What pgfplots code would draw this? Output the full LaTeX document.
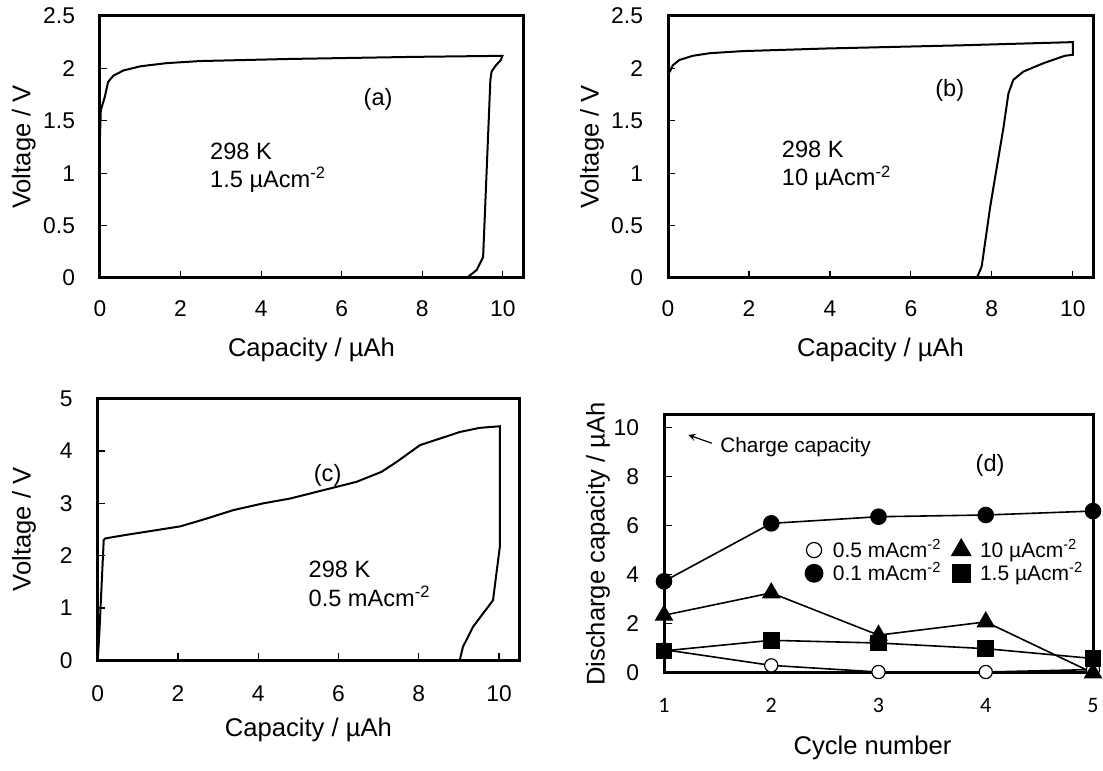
\documentclass[border=0pt]{standalone}
\usepackage{fontspec}
\setmainfont{Liberation Sans}
\newfontfamily\carlito{Carlito}
\usepackage{pgfplots}
\pgfplotsset{compat=1.18}
\tikzset{ann/.style={font=\fontsize{11.8}{14.2}\selectfont, align=left, anchor=west}}
\begin{document}
\begin{tikzpicture}
\path[use as bounding box] (0,0) rectangle (551.5pt,385.5pt);
\pgfplotsset{
  every axis/.append style={
    scale only axis,
    anchor=south west,
    axis line style={line width=1.5pt},
    tick pos=left,
    tick align=inside,
    major tick length=3.5pt,
    every tick/.style={black, line width=0.6pt},
    /pgf/number format/assume math mode=true,
    tick label style={font=\fontsize{11.4}{13.7}\selectfont},
    label style={font=\fontsize{12.8}{15.4}\selectfont},
    yticklabel style={xshift=-9pt},
  },
  curve/.style={black, line width=1pt, no markers},
}
% (a)
\begin{axis}[at={(50pt,246.5pt)}, width=211.5pt, height=131pt,
  xmin=0, xmax=10.5, ymin=0, ymax=2.5,
  xtick={0,2,4,6,8,10}, ytick={0,0.5,1,1.5,2,2.5},
  xticklabel style={yshift=-8pt},
  xlabel={Capacity / µAh}, ylabel={Voltage / V},
  xlabel style={at={(axis description cs:0.5,-0.275)}, anchor=center},
  ylabel style={at={(axis description cs:-0.18,0.5)}, anchor=center}]
\addplot[curve] coordinates {
(0,1.35) (0.02,1.6) (0.12,1.73) (0.2,1.87) (0.33,1.93) (0.58,1.98) (1.0,2.02)
(1.65,2.05) (2.48,2.07) (4.7,2.09) (7.8,2.11) (9.99,2.12)
(9.95,2.08) (9.83,2.03) (9.72,1.97) (9.69,1.89) (9.51,0.2) (9.35,0.076) (9.1,0.0)};
\node[ann] at (axis cs:6.37,1.70) {(a)};
\node[ann] at (axis cs:2.56,1.055) {298 K\\1.5 µAcm\textsuperscript{-2}};
\end{axis}
% (b)
\begin{axis}[at={(334pt,246.5pt)}, width=212.5pt, height=131pt,
  xmin=0, xmax=10.5, ymin=0, ymax=2.5,
  xtick={0,2,4,6,8,10}, ytick={0,0.5,1,1.5,2,2.5},
  xticklabel style={yshift=-8pt},
  xlabel={Capacity / µAh}, ylabel={Voltage / V},
  xlabel style={at={(axis description cs:0.5,-0.275)}, anchor=center},
  ylabel style={at={(axis description cs:-0.179,0.5)}, anchor=center}]
\addplot[curve] coordinates {
(0,1.45) (0.02,1.95) (0.12,2.03) (0.28,2.08) (0.61,2.12) (1.03,2.145) (1.85,2.165)
(3.92,2.19) (7.22,2.22) (9.94,2.25) (10.0,2.25) (10.0,2.13) (9.8,2.12)
(9.28,2.05) (8.78,1.97) (8.53,1.89) (8.41,1.76) (8.29,1.44) (7.96,0.68) (7.75,0.11) (7.63,0.0)};
\node[ann] at (axis cs:6.43,1.79) {(b)};
\node[ann] at (axis cs:2.64,1.07) {298 K\\10 µAcm\textsuperscript{-2}};
\end{axis}
% (c)
\begin{axis}[at={(48.85pt,55.25pt)}, width=210.7pt, height=131pt,
  xmin=0, xmax=10.5, ymin=0, ymax=5,
  xtick={0,2,4,6,8,10}, ytick={0,1,2,3,4,5},
  xticklabel style={yshift=-9pt},
  xlabel={Capacity / µAh}, ylabel={Voltage / V},
  xlabel style={at={(axis description cs:0.5,-0.265)}, anchor=center},
  ylabel style={at={(axis description cs:-0.175,0.5)}, anchor=center}]
\addplot[curve] coordinates {
(0,0) (0.04,0.5) (0.15,2.3) (0.19,2.33) (0.65,2.39) (1.48,2.49) (2.06,2.56) (2.72,2.71)
(3.38,2.87) (4.13,3.0) (4.79,3.09) (5.62,3.25) (6.45,3.41) (7.07,3.6) (7.45,3.79)
(8.03,4.11) (9.02,4.36) (9.52,4.44) (10.02,4.47) (10.02,2.17) (9.85,1.15)
(9.35,0.64) (9.10,0.26) (9.02,0.0)};
\node[ann] at (axis cs:5.21,3.54) {(c)};
\node[ann] at (axis cs:5.08,1.46) {298 K\\0.5 mAcm\textsuperscript{-2}};
\end{axis}
% (d)
\begin{axis}[at={(332pt,49pt)}, width=214.5pt, height=129pt,
  xmin=1, xmax=5, ymin=0, ymax=10.5, clip=false,
  xtick={1,2,3,4,5}, ytick={0,2,4,6,8,10},
  major tick length=4pt,
  xticklabel style={yshift=-9pt, font=\carlito\fontsize{11}{13}\selectfont},
  xlabel={Cycle number}, ylabel={Discharge capacity / µAh},
  xlabel style={at={(axis description cs:0.486,-0.29)}, anchor=center},
  ylabel style={at={(axis description cs:-0.154,0.5)}, anchor=center},
  legend columns=2,
  legend style={at={(axis description cs:0.305,0.55)}, anchor=north west, draw=none, fill=none,
    font=\fontsize{10.5}{12}\selectfont, row sep=-3pt,
    /tikz/every even column/.append style={column sep=1.5pt}},
  legend cell align=left,
  legend image code/.code={\path (0pt,0pt) (13pt,0pt);
    \draw[#1, /tikz/every mark/.append style={scale=1.15}] plot[only marks] coordinates {(6pt,0pt)};}]
\addplot[black, line width=0.8pt, mark=*, mark size=3.3pt, mark options={fill=white, line width=0.6pt}]
  coordinates {(1,0.95) (2,0.31) (3,0.04) (4,0.04) (5,0.14)};
\addlegendentry{0.5 mAcm\textsuperscript{-2}}
\addplot[black, line width=0.8pt, mark=triangle*, mark size=4.6pt, mark options={fill=black}]
  coordinates {(1,2.35) (2,3.26) (3,1.54) (4,2.08) (5,0.0)};
\addlegendentry{10 µAcm\textsuperscript{-2}}
\addplot[black, line width=0.8pt, mark=*, mark size=3.75pt, mark options={fill=black}]
  coordinates {(1,3.73) (2,6.09) (3,6.36) (4,6.43) (5,6.59)};
\addlegendentry{0.1 mAcm\textsuperscript{-2}}
\addplot[black, line width=0.8pt, mark=square*, mark size=3.75pt, mark options={fill=black}]
  coordinates {(1,0.90) (2,1.33) (3,1.22) (4,0.99) (5,0.59)};
\addlegendentry{1.5 µAcm\textsuperscript{-2}}
\draw[-stealth, line width=0.6pt] (axis cs:1.445,9.35) -- (axis cs:1.227,9.69);
\node[anchor=west, font=\fontsize{10.4}{12}\selectfont] at (axis cs:1.46,9.2) {Charge capacity};
\node[ann] at (axis cs:3.84,8.46) {(d)};
\end{axis}
\end{tikzpicture}
\end{document}
